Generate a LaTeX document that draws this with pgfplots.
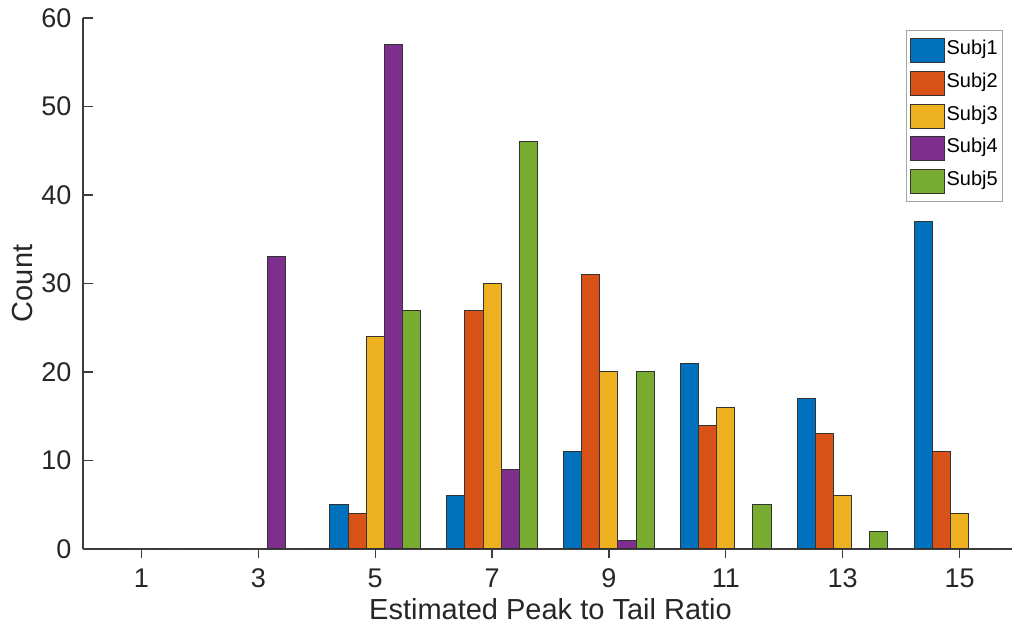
\documentclass[border=0pt]{standalone}
\usepackage{pgfplots}
\pgfplotsset{compat=1.18}
\usepackage{fontspec}
\setmainfont{Liberation Sans}
\definecolor{c1}{RGB}{0,114,189}
\definecolor{c2}{RGB}{217,83,25}
\definecolor{c3}{RGB}{237,177,32}
\definecolor{c4}{RGB}{126,47,142}
\definecolor{c5}{RGB}{119,172,48}
\definecolor{axgray}{RGB}{60,60,60}
\pgfplotsset{mybar/.style={fill=#1, draw=black!80, line width=0.4pt,
  legend image code/.code={\draw[##1] (0pt,-4.8pt) rectangle (13.6pt,4.8pt);}}}
\begin{document}
\begin{tikzpicture}
\useasboundingbox (0,0) rectangle (404.8pt,253.2pt);
\begin{axis}[
  at={(33.2pt,33.6pt)}, anchor=south west,
  scale only axis, width=374pt, height=212.4pt,
  xmin=0, xmax=16, ymin=0, ymax=60,
  xtick={1,3,...,15}, ytick={0,10,...,60},
  axis x line=bottom, axis y line=left,
  axis line style={-, draw=axgray, line width=0.5pt},
  tick align=inside, major tick length=3.8pt,
  tick style={axgray, line width=0.5pt},
  /pgf/number format/assume math mode=true,
  ticklabel style={font=\fontsize{10.8}{12}\selectfont, text=black!85},
  xticklabel style={anchor=north, inner sep=0pt, yshift=-3.8pt},
  yticklabel style={anchor=east, inner sep=0pt, xshift=-4.4pt},
  label style={font=\fontsize{11.6}{13}\selectfont, text=black!85},
  xlabel={Estimated Peak to Tail Ratio},
  ylabel={Count},
  xlabel style={at={(axis description cs:0.5,-0.132)}, anchor=base, inner sep=0pt},
  ylabel style={at={(axis description cs:-0.0535,0.5)}, anchor=base, inner sep=0pt},
  ybar, bar width=0.31,
  legend style={at={(0.880,0.977)}, anchor=north west,
    font=\fontsize{8}{9.6}\selectfont, draw=black!35, line width=0.4pt,
    inner xsep=1.5pt, inner ysep=1.5pt,
    nodes={inner sep=0.6pt, text height=7.6pt, text depth=4.25pt}},
  legend cell align=left,
]
\addplot[mybar=c1, bar shift=-0.62] coordinates {(1,0) (3,0) (5,5) (7,6) (9,11) (11,21) (13,17) (15,37)};
\addplot[mybar=c2, bar shift=-0.31] coordinates {(1,0) (3,0) (5,4) (7,27) (9,31) (11,14) (13,13) (15,11)};
\addplot[mybar=c3, bar shift=0] coordinates {(1,0) (3,0) (5,24) (7,30) (9,20) (11,16) (13,6) (15,4)};
\addplot[mybar=c4, bar shift=0.31] coordinates {(1,0) (3,33) (5,57) (7,9) (9,1) (11,0) (13,0) (15,0)};
\addplot[mybar=c5, bar shift=0.62] coordinates {(1,0) (3,0) (5,27) (7,46) (9,20) (11,5) (13,2) (15,0)};
\legend{Subj1,Subj2,Subj3,Subj4,Subj5}
\end{axis}
\end{tikzpicture}
\end{document}
